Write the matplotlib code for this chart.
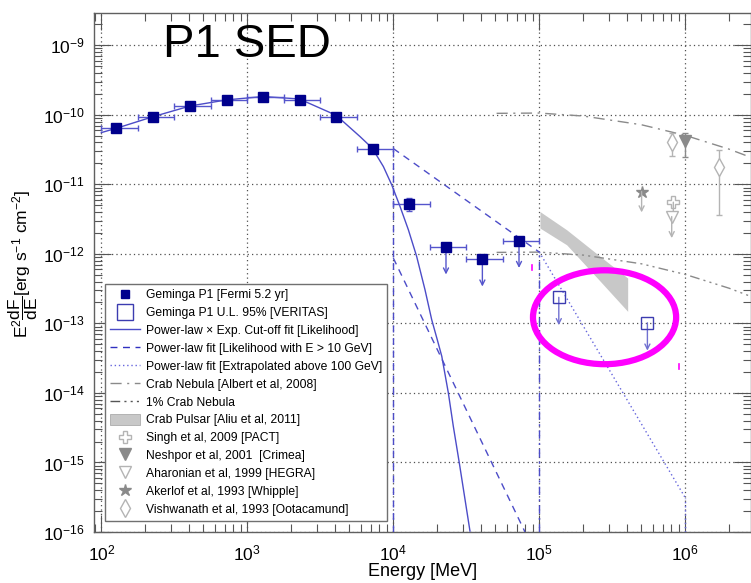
import matplotlib
matplotlib.use('Agg')
import matplotlib.pyplot as plt
import numpy as np
from matplotlib.lines import Line2D
from matplotlib.patches import Patch, Ellipse
from matplotlib.ticker import LogLocator, NullFormatter

plt.rcParams['font.family'] = ['Liberation Sans', 'DejaVu Sans']
plt.rcParams['mathtext.fontset'] = 'custom'
plt.rcParams['mathtext.rm'] = 'Liberation Sans'
plt.rcParams['mathtext.it'] = 'Liberation Sans:italic'
plt.rcParams['mathtext.bf'] = 'Liberation Sans:bold'
plt.rcParams['mathtext.default'] = 'regular'
plt.rcParams['axes.unicode_minus'] = False

# Fermi P1 points (MeV, erg s-1 cm-2)
fermi_e = [127, 227, 405, 722, 1282, 2285, 4075, 7230, 12890, 22950, 40740, 72600]
fermi_f = [6.41e-11, 9.42e-11, 1.33e-10, 1.65e-10, 1.81e-10, 1.65e-10, 9.42e-11,
           3.27e-11, 5.25e-12, 1.24e-12, 8.32e-13, 1.54e-12]
fermi_elo = [100, 178, 316, 562, 1000, 1778, 3162, 5623, 10000, 17783, 31623, 56234]
fermi_ehi = [178, 316, 562, 1000, 1778, 3162, 5623, 10000, 17783, 31623, 56234, 100000]
fermi_ferr = [2e-12, 3e-12, 4e-12, 5e-12, 5e-12, 5e-12, 4e-12, 2e-12, 1.1e-12, 0, 0, 0]
fermi_ul = [False] * 9 + [True] * 3

# VERITAS upper limits
ver_e = [1.36e5, 5.5e5]
ver_f = [2.37e-13, 1.02e-13]

# power-law x exp cut-off fit
cut_e = [100, 127, 227, 406, 723, 1282, 2270, 4055, 5916, 7178, 8551, 9750, 11120,
         12680, 14450, 16480, 18320, 20000, 21480, 23820, 25760, 28310, 33500]
cut_f = [5.55e-11, 6.41e-11, 9.42e-11, 1.34e-10, 1.64e-10, 1.83e-10, 1.69e-10, 9.86e-11,
         4.86e-11, 3.31e-11, 1.80e-11, 9.84e-12, 4.80e-12, 2.22e-12, 9.18e-13, 3.05e-13,
         1.13e-13, 5.83e-14, 3.36e-14, 1.0e-14, 3.31e-15, 9.86e-16, 1.03e-16]

# power-law fits above 10 GeV
pl_e = [1e4, 1e5]
pl_f = [3.27e-11, 1.06e-12]
pl2_e = [1e4, 7.98e4]
pl2_f = [8.7e-13, 1e-16]
ext_e = [1e5, 1e6]
ext_f = [1.06e-12, 3.1e-16]

# Crab nebula (Albert 2008)
crab_e = [5.1e4, 1e5, 2e5, 5e5, 1e6, 2e6, 2.8e6]
crab_f = [1.05e-10, 1.06e-10, 9.6e-11, 7.2e-11, 5.06e-11, 3.2e-11, 2.45e-11]

# Crab pulsar band (Aliu 2011)
psr_e = [1.01e5, 1.54e5, 2.61e5, 4.03e5]
psr_hi = [4.06e-12, 2.22e-12, 9.2e-13, 4.49e-13]
psr_lo = [2.35e-12, 1.35e-12, 4.05e-13, 1.49e-13]

# older measurements
singh_e, singh_f = 8.28e5, 5.54e-12
nesh_e, nesh_f, nesh_lo, nesh_hi = 1.0e6, 4.26e-11, 2.5e-11, 5.55e-11
hegra_e, hegra_f = 8.07e5, 3.44e-12
aker_e, aker_f = 5.02e5, 7.88e-12
vish_e = [8.07e5, 1.71e6]
vish_f = [4.12e-11, 1.77e-11]
vish_lo = [2.57e-11, 3.65e-12]
vish_hi = [5.55e-11, 3.13e-11]

navy = '#00008c'
eblue = '#5555cc'
fitblue = '#4c4cc8'
lgray = '#b4b4b4'
dgray = '#8a8a8a'

fig = plt.figure(figsize=(7.51, 5.83), dpi=100)
ax = fig.add_axes([0.1256, 0.0875, 0.8744, 0.8897])
ax.set_xscale('log')
ax.set_yscale('log')
ymin = 1e-16


def ul_arrow(x, y, col, dex=0.39, lw=1.0):
    ax.annotate('', xy=(x, y * 10 ** -dex), xytext=(x, y),
                arrowprops=dict(arrowstyle='->', color=col, lw=lw,
                                shrinkA=0, shrinkB=0, mutation_scale=9), zorder=4)


# crab pulsar band
ax.fill_between(psr_e, psr_lo, psr_hi, color='#c8c8c8', lw=0, zorder=2)

# crab nebula lines
ax.plot(crab_e, crab_f, color=dgray, lw=1, ls=(0, (8, 4, 1.5, 4)), zorder=2)
ax.plot(crab_e, np.array(crab_f) / 100, color=dgray, lw=1,
        ls=(0, (7, 3, 1.5, 3, 1.5, 3, 1.5, 3)), zorder=2)

# fits
ax.plot(cut_e, cut_f, color=fitblue, lw=1, zorder=3)
ax.plot(pl_e, pl_f, color=fitblue, lw=1, ls=(0, (5, 4)), zorder=3)
ax.plot([pl_e[0], pl_e[0]], [ymin, pl_f[0]], color=fitblue, lw=1, ls=(0, (5, 4)), zorder=3)
ax.plot(pl2_e, pl2_f, color=fitblue, lw=1, ls=(0, (5, 4)), zorder=3)
ax.plot(ext_e, ext_f, color='#6666dd', lw=1, ls=(0, (1, 2)), zorder=3)
ax.plot([ext_e[1], ext_e[1]], [ymin, ext_f[1]], color='#6666dd', lw=1, ls=(0, (1, 2)), zorder=3)
ax.plot([ext_e[0], ext_e[0]], [ymin, ext_f[0]], color=fitblue, lw=1,
        ls=(0, (6, 3, 1.5, 3)), zorder=3)

# Fermi points
fe = np.array(fermi_e, dtype=float)
xerr = [fe - np.array(fermi_elo), np.array(fermi_ehi) - fe]
ax.errorbar(fermi_e, fermi_f, xerr=xerr, yerr=fermi_ferr, fmt='none', ecolor=eblue,
            elinewidth=1, capsize=2, capthick=1, zorder=4)
ax.plot(fermi_e, fermi_f, 's', color=navy, ms=6.5, zorder=5)
for e, f, u in zip(fermi_e, fermi_f, fermi_ul):
    if u:
        ul_arrow(e, f, eblue)

# VERITAS ULs
ax.plot(ver_e, ver_f, 's', mfc='none', mec='#3c3cb0', ms=8.5, mew=1, zorder=5)
for e, f in zip(ver_e, ver_f):
    ul_arrow(e, f, '#7070d0', dex=0.4)

# older measurements
ax.errorbar(vish_e, vish_f, yerr=[np.array(vish_f) - vish_lo, np.array(vish_hi) - vish_f],
            fmt='d', mfc='white', mec=lgray, ecolor=lgray, ms=9, capsize=2, elinewidth=1, zorder=4)
ax.errorbar([nesh_e], [nesh_f], yerr=[[nesh_f - nesh_lo], [nesh_hi - nesh_f]],
            fmt='v', color=dgray, ms=8, capsize=2, elinewidth=1, zorder=4)
ax.plot(singh_e, singh_f, 'P', mfc='white', mec=lgray, ms=9, mew=1, zorder=4)
ul_arrow(singh_e, singh_f, lgray, dex=0.28)
ax.plot(hegra_e, hegra_f, 'v', mfc='white', mec=lgray, ms=9, mew=1, zorder=4)
ul_arrow(hegra_e, hegra_f, lgray, dex=0.31)
ax.plot(aker_e, aker_f, '*', color=dgray, ms=9, zorder=4)
ul_arrow(aker_e, aker_f, lgray, dex=0.3)

# magenta highlight
ax.add_patch(Ellipse((0.777, 0.414), 0.218, 0.181, transform=ax.transAxes,
                     fill=False, ec='#ff00ff', lw=4.5, zorder=6))
ax.plot([0.666, 0.666], [0.505, 0.515], color='#ff00ff', lw=1.2, transform=ax.transAxes, zorder=6)
ax.plot([0.891, 0.891], [0.314, 0.324], color='#ff00ff', lw=1.2, transform=ax.transAxes, zorder=6)

ax.set_xlim(10 ** 1.952, 10 ** 6.45)
ax.set_ylim(ymin, 10 ** -8.54)

ax.xaxis.set_major_locator(LogLocator(base=10, numticks=20))
ax.xaxis.set_minor_locator(LogLocator(base=10, subs=np.arange(2, 10), numticks=20))
ax.yaxis.set_major_locator(LogLocator(base=10, numticks=20))
ax.yaxis.set_minor_locator(LogLocator(base=10, subs=np.arange(2, 10), numticks=20))
ax.xaxis.set_minor_formatter(NullFormatter())
ax.yaxis.set_minor_formatter(NullFormatter())

ax.tick_params(which='both', direction='in', top=True, right=True, color='#555555',
               labelsize=12.5, width=0.8)
ax.tick_params(which='major', length=12.5)
ax.tick_params(which='minor', length=5.5)
ax.tick_params(axis='y', pad=7)
ax.tick_params(axis='x', pad=8)
for s in ax.spines.values():
    s.set_color('#606060')
    s.set_linewidth(1)
ax.grid(True, which='major', ls=(0, (1, 2.5)), color='#505050', lw=0.9)

ax.set_xlabel('Energy [MeV]', fontsize=13, labelpad=0)
ax.set_ylabel(r'$E^2\dfrac{dF}{dE}$[erg s$^{-1}$ cm$^{-2}$]', fontsize=12.5)
ax.yaxis.set_label_coords(-0.083, 0.517)

ax.text(0.1046, 0.9163, 'P1 SED', fontsize=34, transform=ax.transAxes, va='baseline')

handles = [
    Line2D([], [], marker='s', color=navy, ls='none', ms=6),
    Line2D([], [], marker='s', mfc='none', mec='#3c3cb0', ls='none', ms=11),
    Line2D([], [], color=fitblue, lw=1),
    Line2D([], [], color='#3030c0', lw=1, ls=(0, (5, 4))),
    Line2D([], [], color='#6666dd', lw=1, ls=(0, (1, 2))),
    Line2D([], [], color=dgray, lw=1, ls=(0, (8, 4, 1.5, 4))),
    Line2D([], [], color='#555555', lw=1, ls=(0, (7, 3, 1.5, 3, 1.5, 3, 1.5, 3))),
    Patch(facecolor='#c8c8c8', edgecolor='#a0a0a0', lw=0.5),
    Line2D([], [], marker='P', mfc='white', mec=lgray, ls='none', ms=9),
    Line2D([], [], marker='v', color=dgray, ls='none', ms=8),
    Line2D([], [], marker='v', mfc='white', mec=lgray, ls='none', ms=9),
    Line2D([], [], marker='*', color=dgray, ls='none', ms=9),
    Line2D([], [], marker='d', mfc='white', mec=lgray, ls='none', ms=9),
]
labels = [
    'Geminga P1 [Fermi 5.2 yr]',
    'Geminga P1 U.L. 95% [VERITAS]',
    'Power-law \u00d7 Exp. Cut-off fit [Likelihood]',
    'Power-law fit [Likelihood with E > 10 GeV]',
    'Power-law fit [Extrapolated above 100 GeV]',
    'Crab Nebula [Albert et al, 2008]',
    '1% Crab Nebula',
    'Crab Pulsar [Aliu et al, 2011]',
    'Singh et al, 2009 [PACT]',
    'Neshpor et al, 2001  [Crimea]',
    'Aharonian et al, 1999 [HEGRA]',
    'Akerlof et al, 1993 [Whipple]',
    'Vishwanath et al, 1993 [Ootacamund]',
]
leg = ax.legend(handles, labels, loc='upper left', bbox_to_anchor=(0.0163, 0.478),
                borderaxespad=0, fontsize=8.7, frameon=True, fancybox=False,
                framealpha=1, edgecolor='#707070', borderpad=0.4, handlelength=2.5,
                handletextpad=0.5, labelspacing=0.44, handleheight=1.0)
leg.get_frame().set_linewidth(1)
leg.set_zorder(7)

fig.savefig('out.png', dpi=100)
